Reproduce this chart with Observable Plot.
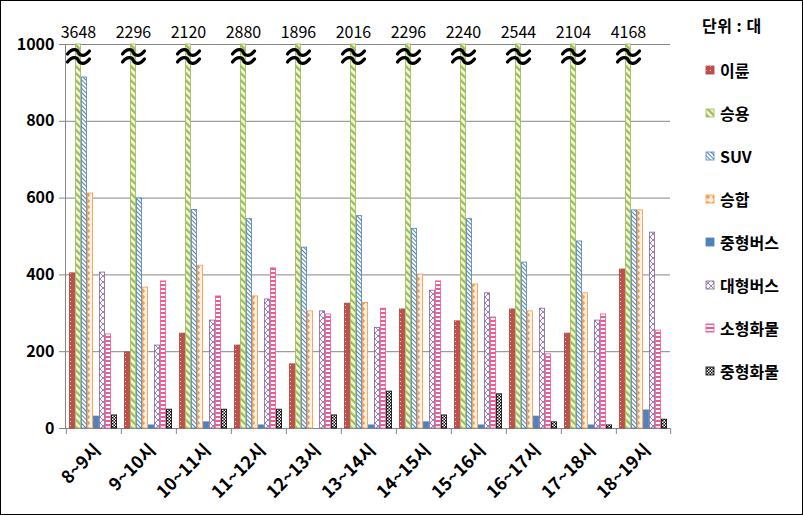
<!DOCTYPE html>
<html><head><meta charset="utf-8">
<script src="https://cdn.jsdelivr.net/npm/d3@7"></script>
<script src="https://cdn.jsdelivr.net/npm/@observablehq/plot@0.6"></script>
<style>
html,body{margin:0;padding:0;background:#fff;}
#wrap{position:relative;width:803px;height:515px;overflow:hidden;font-family:"Noto Sans CJK KR","Noto Sans",sans-serif;}
#border{position:absolute;left:0;top:0;width:803px;height:515px;box-sizing:border-box;border:1px solid #000;pointer-events:none;}
#legend{position:absolute;left:0;top:0;}
.lg-title{position:absolute;left:702px;top:14px;font-size:16px;font-weight:bold;line-height:22px;white-space:nowrap;letter-spacing:0.5px;}
.lg-item{position:absolute;left:705px;height:22px;line-height:22px;font-size:16px;font-weight:bold;white-space:nowrap;display:flex;align-items:center;}
.lg-item svg{margin-right:5px;}
</style></head>
<body>
<div id="wrap"><div id="legend"></div><div id="border"></div></div>
<script>
// ---- data ----
const times = ["8~9시","9~10시","10~11시","11~12시","12~13시","13~14시","14~15시","15~16시","16~17시","17~18시","18~19시"];
const series = ["이륜","승용","SUV","승합","중형버스","대형버스","소형화물","중형화물"];
const v이륜 = [404,198,247,216,167,325,310,279,310,247,414];
const v승용 = [3648,2296,2120,2880,1896,2016,2296,2240,2544,2104,4168];
const vSUV = [914,599,569,545,471,553,520,545,432,487,568];
const v승합 = [612,367,424,344,305,327,401,375,305,352,568];
const v중형버스 = [31,8,16,8,0,8,16,8,31,8,47];
const v대형버스 = [406,216,281,336,305,262,359,352,312,281,510];
const v소형화물 = [245,383,344,417,297,312,383,289,193,297,255];
const v중형화물 = [34,49,49,49,34,96,34,89,16,8,23];
const yTicks = [0,200,400,600,800,1000];
const unitLabel = "단위 : 대";
const CAP = 1000;

const values = [v이륜, v승용, vSUV, v승합, v중형버스, v대형버스, v소형화물, v중형화물];
const strokes = ["#b5403c","#9bbb59","#4f81bd","#f79646","#4f81bd","#8064a2","#ee5a91","#000000"];
const rows = times.flatMap((t, i) => series.map((s, j) => ({time: t, series: s, value: values[j][i]})));
const capped = rows.filter(d => d.value > CAP);

// layout
const W = 803, H = 515, ML = 64, MR = 132, MT = 44, MB = 87;
const fw = (W - ML - MR) / times.length;
const step = fw / (series.length + 1);

// axis-break symbol (two waves)
const breakSymbol = {
  draw(ctx) {
    for (const oy of [-4, 4]) {
      ctx.moveTo(-11, oy + 1.5);
      ctx.bezierCurveTo(-6, oy - 5, -1, oy - 3, 0, oy);
      ctx.bezierCurveTo(1, oy + 3, 6, oy + 5, 11, oy - 1.5);
    }
  }
};

const marks = [
  Plot.gridY(yTicks.filter(d => d > 0), {stroke: "#868686", strokeOpacity: 1}),
  Plot.ruleY([0], {stroke: "#868686"}),
  Plot.frame({anchor: "left", facetAnchor: "left", stroke: "#868686"}),
  Plot.ruleX(rows.filter(d => d.series === series[0]), {fx: "time", x: "series", dx: -step, y1: 0, y2: 0, insetBottom: -6, stroke: "#868686"}),
  Plot.ruleX(rows.filter(d => d.series === series[series.length-1] && d.time === times[times.length-1]), {fx: "time", x: "series", dx: step, y1: 0, y2: 0, insetBottom: -6, stroke: "#868686"}),
  ...series.map((s, j) => Plot.barY(rows.filter(d => d.series === s), {
    fx: "time", x: "series", y: d => Math.min(d.value, CAP),
    fill: `url(#pat${j})`, stroke: strokes[j], strokeWidth: 0.8, insetLeft: 0.4, insetRight: 0.4
  })),
  Plot.text(capped, {fx: "time", x: "series", frameAnchor: "top", dy: -18, text: d => String(d.value), fontSize: 16, fill: "#000"}),
  Plot.dot(capped, {fx: "time", x: "series", frameAnchor: "top", dy: 12, symbol: breakSymbol, r: 5, fill: "none", stroke: "#000", strokeWidth: 3.2, strokeLinecap: "round"}),
  Plot.axisY({ticks: yTicks, tickFormat: d => String(d), tickSize: 6, tickPadding: 5, stroke: "#868686", fill: "#000", fontSize: 16, fontWeight: "bold"}),
  Plot.axisFx({anchor: "bottom", tickSize: 0, tickRotate: -45, tickPadding: 19, fontSize: 17.5, fontWeight: "bold", fill: "#000", label: null, dx: 5})
];

const svg = Plot.plot({
  width: W, height: H,
  marginLeft: ML, marginRight: MR, marginTop: MT, marginBottom: MB,
  style: {fontFamily: '"Noto Sans CJK KR","Noto Sans",sans-serif', background: "transparent", overflow: "visible"},
  fx: {domain: times, padding: 0, label: null},
  x: {domain: series, paddingInner: 0, paddingOuter: 0.5, axis: null},
  y: {domain: [0, CAP], label: null},
  marks
});

// patterns
const defsHtml = `
<pattern id="pat0" width="4" height="4" patternUnits="userSpaceOnUse">
  <rect width="4" height="4" fill="#c0504d"/><rect x="1" y="1" width="1" height="1" fill="#f6dada"/>
</pattern>
<pattern id="pat1" width="5" height="5" patternUnits="userSpaceOnUse" patternTransform="rotate(-45)">
  <rect width="5" height="5" fill="#f3f8d6"/><rect width="2.2" height="5" fill="#9bbb59"/>
</pattern>
<pattern id="pat2" width="3" height="3" patternUnits="userSpaceOnUse" patternTransform="rotate(-45)">
  <rect width="3" height="3" fill="#ffffff"/><rect width="1" height="3" fill="#4f81bd"/>
</pattern>
<pattern id="pat3" width="6" height="6" patternUnits="userSpaceOnUse">
  <rect width="6" height="6" fill="#fff1e2"/><polygon points="3,0.8 5.2,3 3,5.2 0.8,3" fill="#f79646"/>
</pattern>
<pattern id="pat4" width="4" height="4" patternUnits="userSpaceOnUse">
  <rect width="4" height="4" fill="#4f81bd"/>
</pattern>
<pattern id="pat5" width="6" height="6" patternUnits="userSpaceOnUse">
  <rect width="6" height="6" fill="#fbf8ff"/><path d="M0,0L6,6M6,0L0,6" stroke="#8064a2" stroke-width="0.8"/>
</pattern>
<pattern id="pat6" width="4" height="4" patternUnits="userSpaceOnUse">
  <rect width="4" height="4" fill="#ffffff"/><rect width="4" height="2" fill="#ee5a91"/>
</pattern>
<pattern id="pat7" width="3" height="3" patternUnits="userSpaceOnUse">
  <rect width="3" height="3" fill="#ffffff"/><rect width="1.5" height="1.5" fill="#000"/><rect x="1.5" y="1.5" width="1.5" height="1.5" fill="#000"/>
</pattern>`;
const defs = document.createElementNS("http://www.w3.org/2000/svg", "defs");
defs.innerHTML = defsHtml;
svg.insertBefore(defs, svg.firstChild);
svg.style.position = "absolute"; svg.style.left = "0"; svg.style.top = "0";
document.getElementById("wrap").insertBefore(svg, document.getElementById("legend"));

// legend
const lg = d3.select("#legend");
lg.append("div").attr("class", "lg-title").text(unitLabel);
series.forEach((s, j) => {
  const it = lg.append("div").attr("class", "lg-item").style("top", (59 + j * 43) + "px");
  const sw = it.append("svg").attr("width", 10).attr("height", 10);
  sw.append("rect").attr("x", 1).attr("y", 1).attr("width", 8).attr("height", 8)
    .attr("fill", `url(#pat${j})`).attr("stroke", strokes[j]).attr("stroke-width", 0.8);
  it.append("span").text(s);
});
</script>
</body></html>
